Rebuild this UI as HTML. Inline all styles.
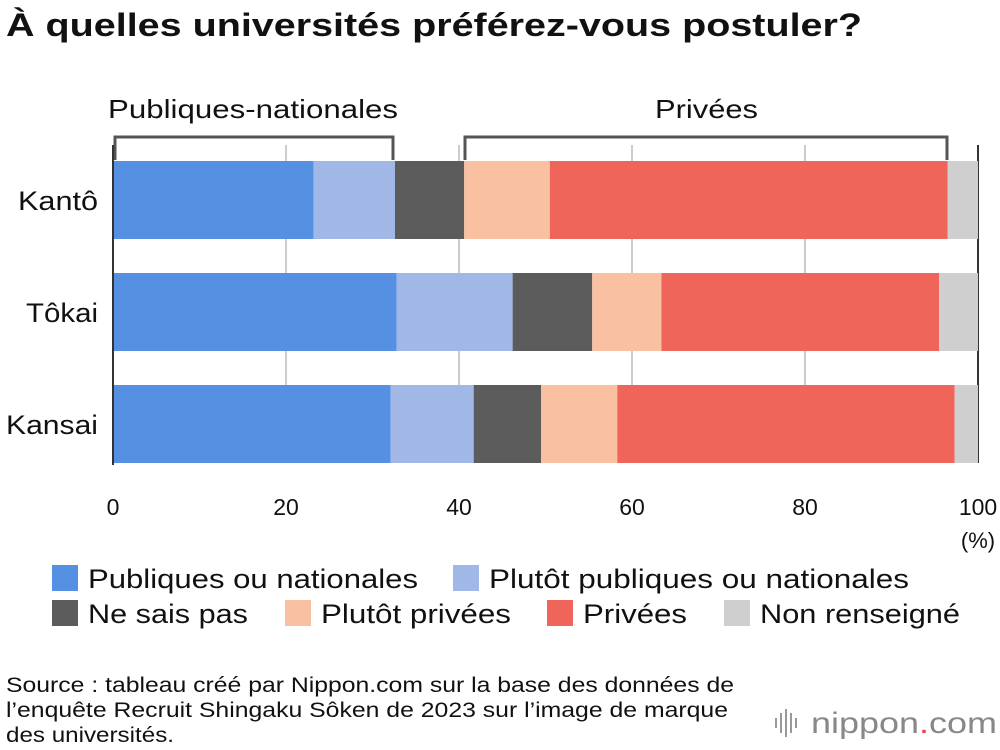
<!DOCTYPE html>
<html><head><meta charset="utf-8"><style>
body{margin:0;background:#fff;font-family:"Liberation Sans",sans-serif;}
svg{display:block}
</style></head><body>
<svg width="1000" height="750" viewBox="0 0 1000 750">
<text x="6" y="36" font-size="32" font-weight="bold" fill="#111" textLength="856" lengthAdjust="spacingAndGlyphs">À quelles universités préférez-vous postuler?</text>
<g id="grid"></g>
<g id="bars"></g>
<g id="brackets">
<path d="M115,160 V137 H393 V160" fill="none" stroke="#555" stroke-width="3"/>
<path d="M465,160 V137 H947 V160" fill="none" stroke="#555" stroke-width="3"/>
<rect x="100" y="88" width="305" height="38" fill="#fff"/>
<text x="108" y="118" font-size="26" fill="#111" textLength="290" lengthAdjust="spacingAndGlyphs">Publiques-nationales</text>
<rect x="645" y="88" width="125" height="38" fill="#fff"/>
<text x="655" y="118" font-size="26" fill="#111" textLength="103" lengthAdjust="spacingAndGlyphs">Privées</text>
</g>
<g id="axis"></g>
<text x="978" y="548" font-size="22" text-anchor="middle" fill="#111">(%)</text>
<g id="legend"></g>
<text font-size="21" fill="#111"><tspan x="6" y="692" textLength="728" lengthAdjust="spacingAndGlyphs">Source : tableau créé par Nippon.com sur la base des données de</tspan><tspan x="6" y="717" textLength="722" lengthAdjust="spacingAndGlyphs">l’enquête Recruit Shingaku Sôken de 2023 sur l’image de marque</tspan><tspan x="6" y="742" textLength="168" lengthAdjust="spacingAndGlyphs">des universités.</tspan></text>
<g>
<g stroke="#999" stroke-width="2"><line x1="776" y1="718" x2="776" y2="728"/><line x1="781" y1="713" x2="781" y2="733"/><line x1="786" y1="709" x2="786" y2="737"/><line x1="791" y1="713" x2="791" y2="733"/><line x1="796" y1="718" x2="796" y2="728"/></g>
<text x="811" y="733" font-size="30" fill="#888" textLength="186" lengthAdjust="spacingAndGlyphs">nippon<tspan fill="#e8473a">.</tspan>com</text>
</g>
</svg>
<script>
const regions=["Kantô","Tôkai","Kansai"];
const seriesNames=["Publiques ou nationales","Plutôt publiques ou nationales","Ne sais pas","Plutôt privées","Privées","Non renseigné"];
const publiques=[23.2,32.8,32.1];
const plutotPubliques=[9.4,13.4,9.6];
const neSaisPas=[8.0,9.2,7.8];
const plutotPrivees=[9.9,8.0,8.8];
const privees=[46.0,32.1,39.0];
const nonRenseigne=[3.5,4.5,2.7];
const ticks=[0,20,40,60,80,100];
const colors=["#5690e3","#a1b8e6","#5c5c5c","#f9c0a2","#f06559","#cfcfcf"];
const NS="http://www.w3.org/2000/svg";
const x0=113,x1=978;
const xs=v=>x0+(x1-x0)*v/100;
const yBand=i=>161+i*112;
const bh=78;
const labelW=[80,72,92];
const legendW=[330,420,160,190,104,200];
function mk(t,a,p){const e=document.createElementNS(NS,t);for(const k in a)e.setAttribute(k,a[k]);p.appendChild(e);return e;}
const grid=document.getElementById('grid');
ticks.forEach(t=>{
 if(t>0){const l=mk('line',{x1:xs(t),x2:xs(t),y1:145,y2:463,stroke:t===100?'#333':'#ccc','stroke-width':2},grid);
 
 }
});
const axis=document.getElementById('axis');
const al=mk('line',{x1:x0,x2:x0,y1:145,y2:465,stroke:'#333','stroke-width':2},axis);


ticks.forEach(t=>{const tx=mk('text',{x:xs(t),y:515,'font-size':23,'text-anchor':'middle',fill:'#111'},axis);tx.textContent=t;
 
 });
const series=[publiques,plutotPubliques,neSaisPas,plutotPrivees,privees,nonRenseigne];
const bars=document.getElementById('bars');
regions.forEach((r,i)=>{
 const lab=mk('text',{x:98-labelW[i],y:yBand(i)+bh/2+10,'font-size':27,fill:'#111',textLength:labelW[i],lengthAdjust:'spacingAndGlyphs'},bars);lab.textContent=r;
 
 
 let acc=0;
 series.forEach((s,j)=>{
  const rc=mk('rect',{x:xs(acc),y:yBand(i),width:xs(acc+s[i])-xs(acc),height:bh,fill:colors[j]},bars);
  
  
  acc+=s[i];
 });
});
const lg=document.getElementById('legend');
const lpos=[[52,578],[453,578],[52,613],[285,613],[547,613],[724,613]];
seriesNames.forEach((n,j)=>{
 const g=mk('g',{},lg);
 
 
 mk('rect',{x:lpos[j][0],y:lpos[j][1]-13,width:26,height:26,fill:colors[j]},g);
 const t=mk('text',{x:lpos[j][0]+36,y:lpos[j][1]+10,'font-size':27,fill:'#111',textLength:legendW[j],lengthAdjust:'spacingAndGlyphs'},g);t.textContent=n;
});
</script>
</body></html>
